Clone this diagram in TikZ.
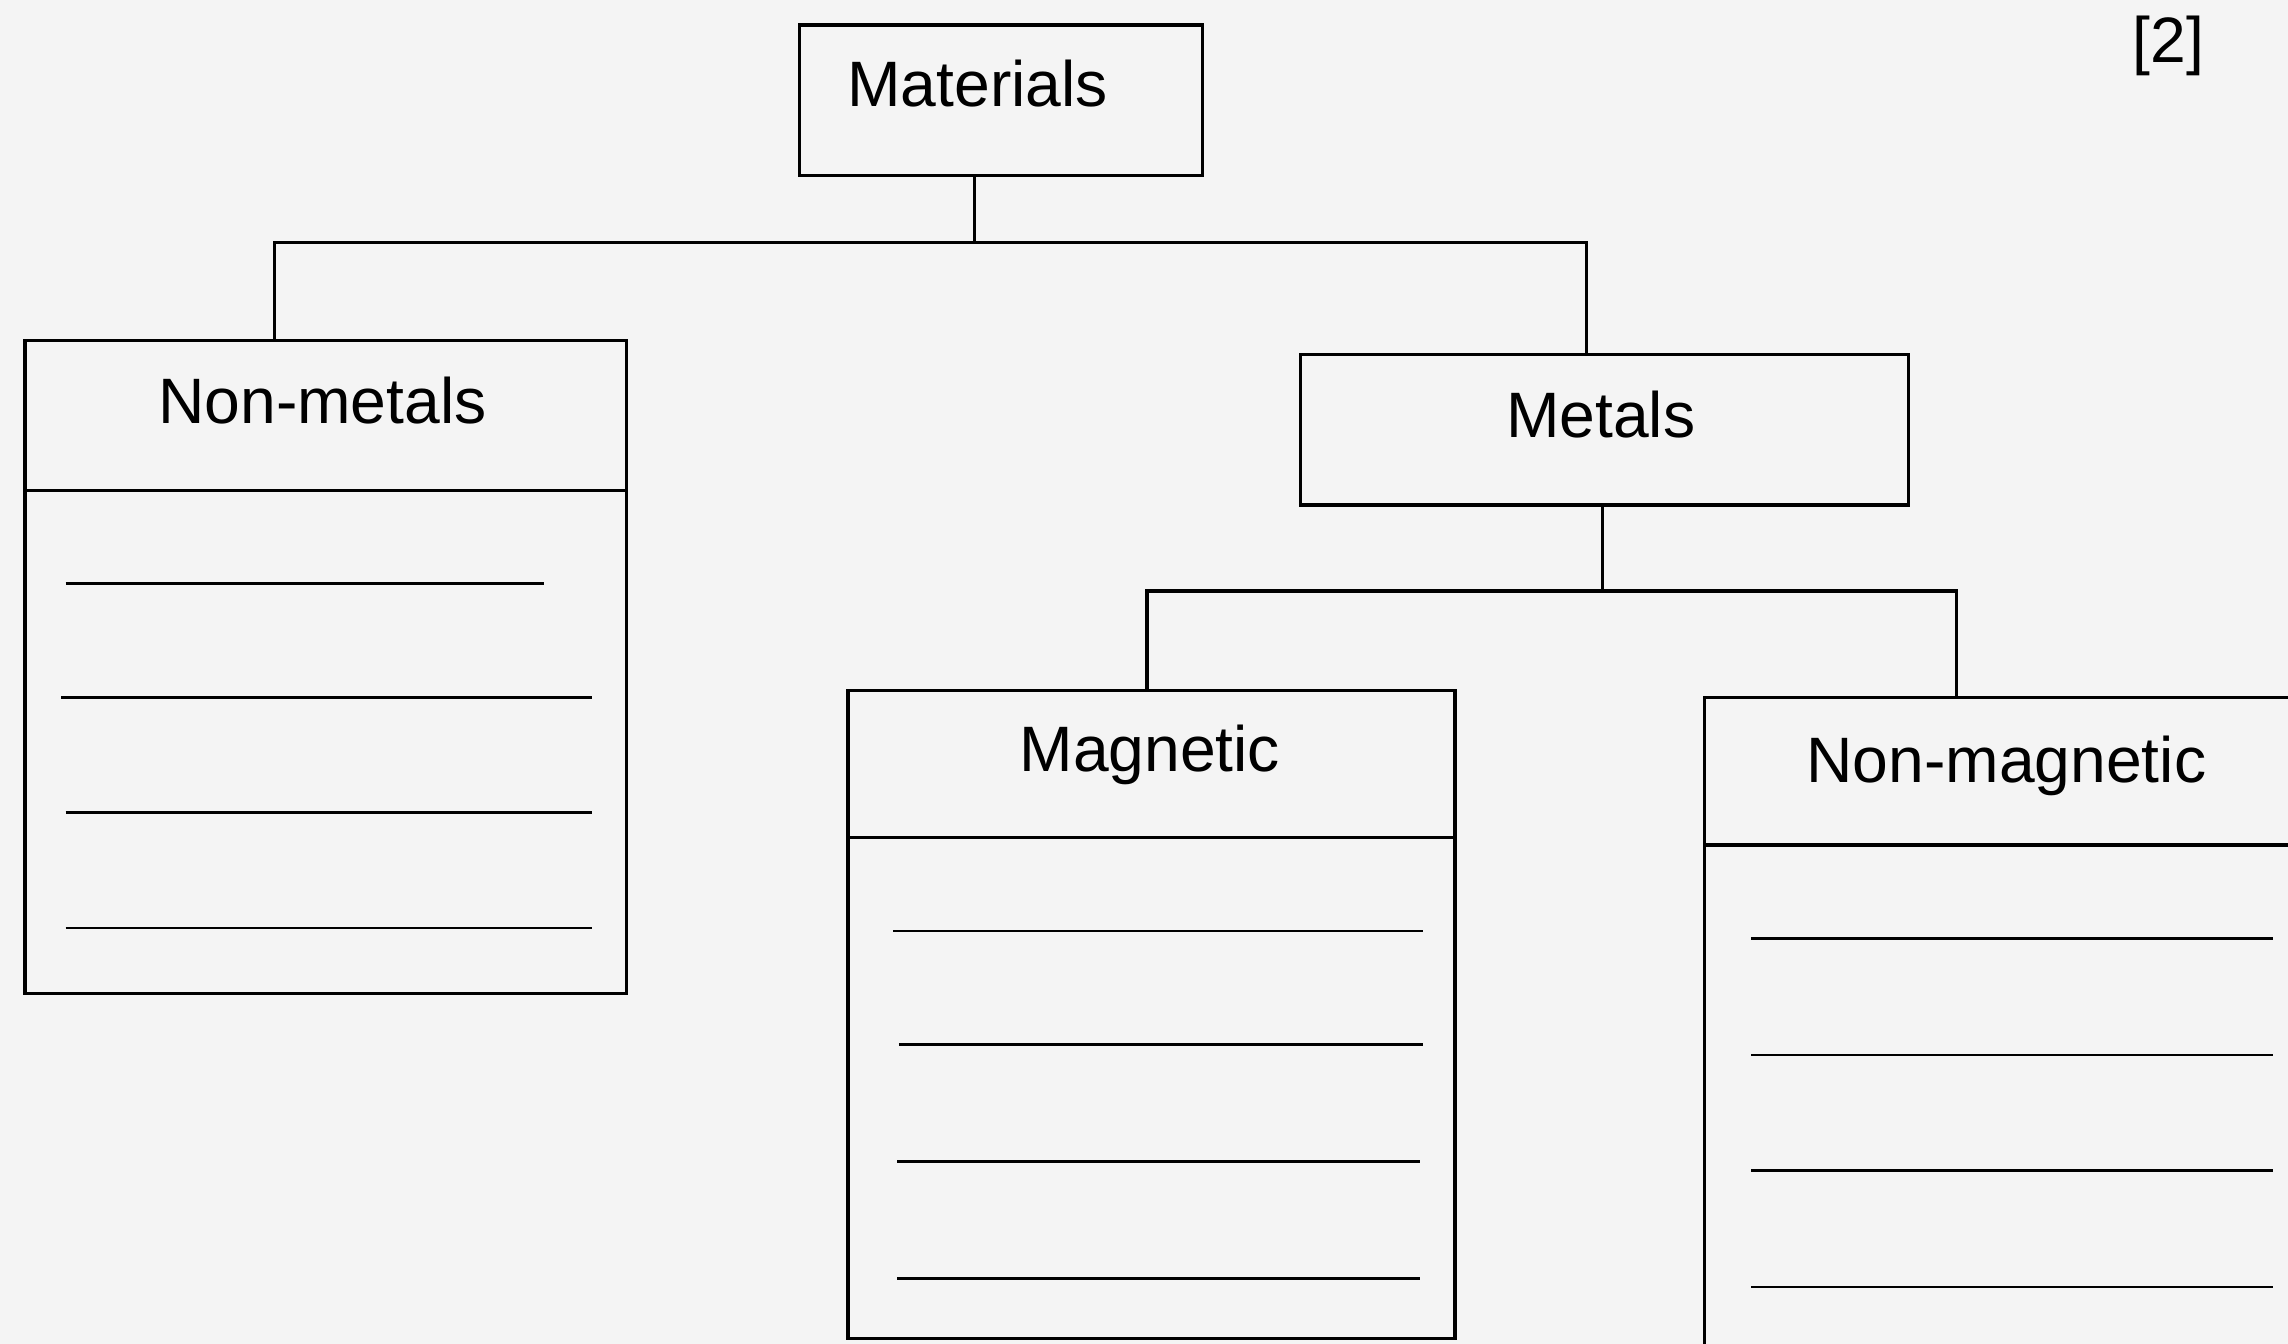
\documentclass[tikz,border=0pt]{standalone}
\usepackage{fontspec}
\setmainfont{Liberation Sans}
\definecolor{bg}{HTML}{F4F4F4}
\begin{document}
\begin{tikzpicture}[x=1pt,y=-1pt,
  box/.style={draw=black, line width=2.2pt, inner sep=0pt, anchor=north west},
  wline/.style={draw=black, line width=1.9pt},
  conn/.style={draw=black, line width=2.2pt},
  lbl/.style={font=\fontsize{44}{53}\selectfont, anchor=base, inner sep=0pt}]
\clip (0,0) rectangle (1568,921);
\fill[bg] (0,0) rectangle (1568,921);

% boxes
\node[box, minimum width=276pt, minimum height=103pt] (mat) at (547,16) {};
\node[box, minimum width=412pt, minimum height=103pt] (nmh) at (16,232) {};
\node[box, minimum width=412pt, minimum height=345pt] (nmb) at (16,335) {};
\node[box, minimum width=417pt, minimum height=103pt] (met) at (890,242) {};
\node[box, minimum width=416pt, minimum height=101pt] (magh) at (580,472) {};
\node[box, minimum width=416pt, minimum height=343pt] (magb) at (580,573) {};
\node[box, minimum width=430pt, minimum height=101pt] (nmgh) at (1167,477) {};
\node[box, minimum width=430pt, minimum height=360pt] (nmgb) at (1167,578) {};

% labels
\node[lbl] (tmat) at (670,73) {Materials};
\node[lbl] (tnm) at (221,290) {Non-metals};
\node[lbl] (tmet) at (1097,300) {Metals};
\node[lbl] (tmag) at (788,529) {Magnetic};
\node[lbl] (tnmg) at (1375,536) {Non-magnetic};
\node[lbl] (tmark) at (1486,43) {[2]};

% connectors
\coordinate (j0) at (668,166);
\coordinate (jl) at (188,166);
\coordinate (jr) at (1087,166);
\draw[conn] (mat.south -| j0) -- (j0);
\draw[conn] (nmh.north -| jl) -- (jl) -- (jr) -- (met.north -| jr);
\coordinate (k0) at (1098,405);
\coordinate (kl) at (786,405);
\coordinate (kr) at (1341,405);
\draw[conn] (met.south -| k0) -- (k0);
\draw[conn] (magh.north -| kl) -- (kl) -- (kr) -- (nmgh.north -| kr);

% writing lines
\draw[wline] (45,400) -- (373,400);
\draw[wline] (42,478) -- (406,478);
\draw[wline] (45,557) -- (406,557);
\draw[wline] (45,636) -- (406,636);

\draw[wline] (612,638) -- (975,638);
\draw[wline] (616,716) -- (975,716);
\draw[wline] (615,796) -- (973,796);
\draw[wline] (615,876) -- (973,876);

\draw[wline] (1200,643) -- (1558,643);
\draw[wline] (1200,723) -- (1558,723);
\draw[wline] (1200,802) -- (1558,802);
\draw[wline] (1200,882) -- (1558,882);
\end{tikzpicture}
\end{document}
